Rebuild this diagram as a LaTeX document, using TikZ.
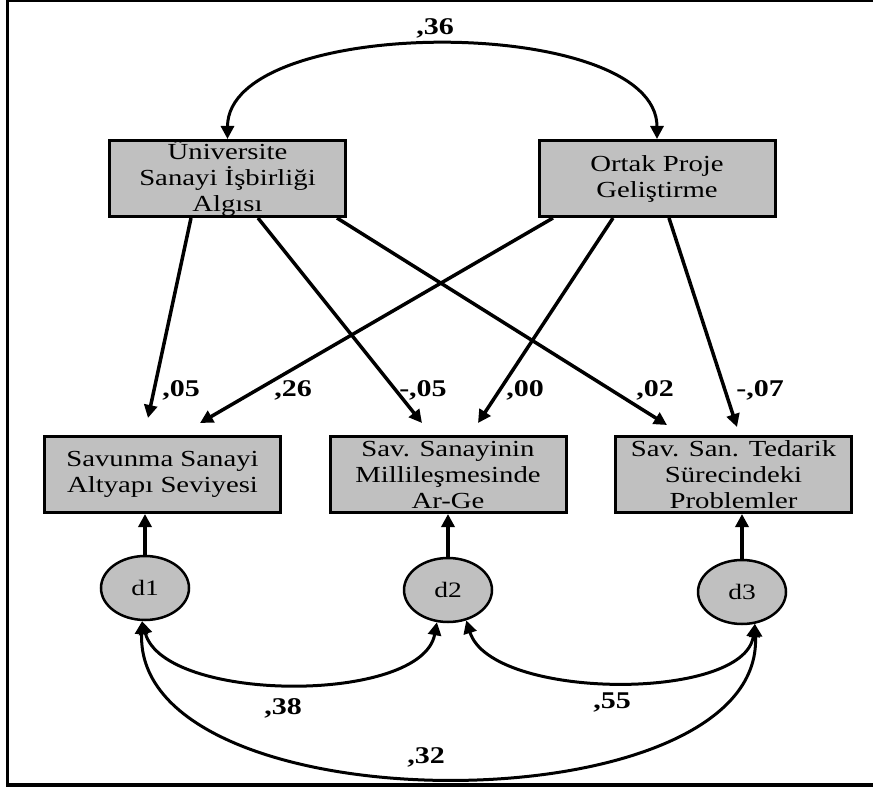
\documentclass[tikz,border=0pt]{standalone}
\usepackage{fontspec}
\setmainfont{Liberation Serif}[FakeStretch=1.25]
\usetikzlibrary{arrows.meta,shapes.geometric}
\definecolor{boxgray}{HTML}{C0C0C0}
\tikzset{
  var/.style={draw=black, line width=3pt, fill=boxgray, minimum width=236pt,
    minimum height=76pt, inner sep=0pt, align=center,
    font=\fontsize{23}{26}\selectfont},
  err/.style={ellipse, draw=black, line width=2.5pt, fill=boxgray,
    minimum width=88pt, minimum height=64pt, inner sep=0pt,
    font=\fontsize{22}{26}\selectfont},
  pth/.style={line width=3.5pt, -{Triangle[length=13pt,width=13pt]}},
  cov/.style={line width=3pt,
    {Triangle[length=13pt,width=13pt]}-{Triangle[length=13pt,width=13pt]}},
  lab/.style={font=\bfseries\fontsize{24}{26}\selectfont, inner sep=0pt},
  frame/.style={line width=3.5pt}
}
\begin{document}
\begin{tikzpicture}[x=1pt,y=-1pt]
\useasboundingbox (0,0) rectangle (873,789);
% frame (right side lies outside the picture)
\draw[frame] (7.5,0) -- (7.5,785);
\draw[line width=2.5pt] (6,1.2) -- (873,1.2);
\draw[line width=4pt] (6,785) -- (873,785);

% observed variables
\node[var] (U) at (227.5,178.5) {Üniversite\\Sanayi İşbirliği\\Algısı};
\node[var] (O) at (657,178.5) {Ortak Proje\\Geliştirme};
\node[var] (S) at (162.5,474.5) {Savunma Sanayi\\Altyapı Seviyesi};
\node[var] (M) at (448,474.5) {Sav. Sanayinin\\Millileşmesinde\\Ar-Ge};
\node[var] (T) at (733.5,474.5) {Sav. San. Tedarik\\Sürecindeki\\Problemler};

% disturbances
\node[err] (d1) at (145,588) {d1};
\node[err] (d2) at (448,590) {d2};
\node[err] (d3) at (742,592) {d3};

% covariance between exogenous variables
\draw[cov] (U.north) .. controls +(0,-125) and +(0,-125) .. (O.north);
\node[lab] (l36) at (435,28) {,36};

% paths
\draw[pth] ([xshift=-36.5pt]U.south) -- ([xshift=-14.5pt,yshift=17pt]S.north);
\draw[pth] ([xshift=30.5pt]U.south) -- ([xshift=-26pt,yshift=12pt]M.north);
\draw[pth] ([xshift=109.5pt]U.south) -- ([xshift=-66.5pt,yshift=10pt]T.north);
\draw[pth] ([xshift=-104pt]O.south) -- ([xshift=37.5pt,yshift=12pt]S.north);
\draw[pth] ([xshift=-44pt]O.south) -- ([xshift=30pt,yshift=12pt]M.north);
\draw[pth] ([xshift=12pt]O.south) -- ([xshift=3.5pt,yshift=8pt]T.north);

\node[lab] (l05) at (181,390) {,05};
\node[lab] (l26) at (293,390) {,26};
\node[lab] (lm05) at (423,390) {-,05};
\node[lab] (l00) at (525,390) {,00};
\node[lab] (l02) at (655,390) {,02};
\node[lab] (lm07) at (760,390) {-,07};

% disturbance paths
\draw[pth] (d1.north) -- (d1.north |- S.south);
\draw[pth] (d2.north) -- (d2.north |- M.south);
\draw[pth] (d3.north) -- (d3.north |- T.south);

% disturbance covariances
\draw[cov] (d1.-95) .. controls +(22,82) and +(-15,82) .. (d2.-109);
\draw[cov] (d2.-59) .. controls +(25,80) and +(-10,78) .. (d3.-68);
\draw[cov] (d1.-95) .. controls +(-8,208) and +(10,205) .. (d3.-68);

\node[lab] (l38) at (283,708) {,38};
\node[lab] (l55) at (612,702) {,55};
\node[lab] (l32) at (426,757) {,32};
\end{tikzpicture}
\end{document}
